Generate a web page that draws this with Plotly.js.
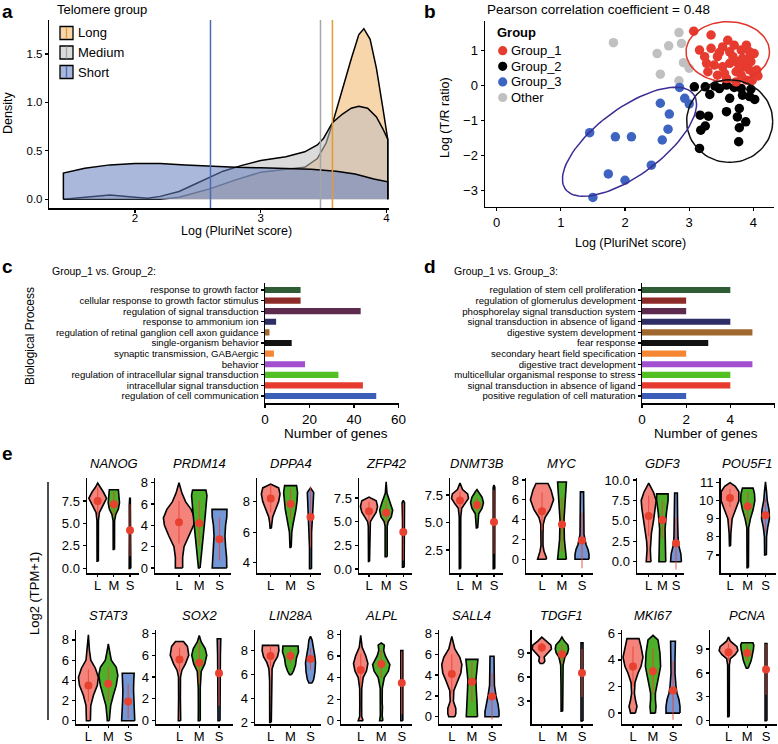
<!DOCTYPE html>
<html>
<head>
<meta charset="utf-8">
<script src="https://cdn.plot.ly/plotly-3.0.1.min.js"></script>
<style>
  html, body { margin: 0; padding: 0; background: #fff; }
  #plot { width: 778px; height: 744px; }
</style>
</head>
<body>
<div id="plot"></div>
<script>
const FONT = 'Liberation Sans, Arial, Helvetica, sans-serif';

// ---- a: density of log PluriNet score per telomere group ----
const telomereGroups = ['Long', 'Medium', 'Short'];
const longX = [1.43, 2.2, 2.35, 2.5, 2.6, 2.8, 3.0, 3.2, 3.35, 3.45, 3.52, 3.57, 3.65, 3.72, 3.78, 3.82, 3.87, 3.92, 3.97, 4.01];
const longY = [0, 0, 0.02, 0.07, 0.11, 0.2, 0.28, 0.31, 0.33, 0.42, 0.58, 0.78, 1.15, 1.45, 1.7, 1.76, 1.65, 1.35, 0.95, 0.62];
const medX = [1.43, 1.6, 1.8, 2.0, 2.1, 2.2, 2.35, 2.5, 2.6, 2.7, 2.85, 3.0, 3.2, 3.35, 3.45, 3.5, 3.57, 3.65, 3.72, 3.78, 3.85, 3.92, 3.97, 4.01];
const medY = [0, 0.02, 0.045, 0.02, 0.01, 0.03, 0.08, 0.17, 0.23, 0.29, 0.35, 0.4, 0.44, 0.49, 0.56, 0.63, 0.79, 0.88, 0.94, 0.96, 0.94, 0.85, 0.73, 0.62];
const shortX = [1.43, 1.6, 1.8, 2.0, 2.2, 2.4, 2.6, 2.8, 3.0, 3.2, 3.4, 3.6, 3.75, 3.9, 4.01];
const shortY = [0.27, 0.32, 0.355, 0.37, 0.37, 0.355, 0.34, 0.33, 0.325, 0.32, 0.31, 0.29, 0.26, 0.21, 0.18];
const groupMeans = [3.57, 3.475, 2.6]; // vertical lines, Long / Medium / Short

// ---- b: PluriNet score vs T/R ratio ----
const clusterNames = ['Group_1', 'Group_2', 'Group_3', 'Other'];
const g1x = [3.07, 3.34, 3.16, 3.24, 3.34, 3.44, 3.52, 3.63, 3.70, 3.81, 3.89, 3.94, 3.83, 3.73, 3.63, 3.52, 3.39, 3.29, 3.44, 3.58, 3.73, 3.86, 3.96, 4.01, 3.89, 3.73, 3.81, 3.94, 4.01, 3.68, 3.78, 3.27, 3.60, 3.47, 3.98, 3.92, 3.55, 4.07, 4.05];
const g1y = [1.56, 1.45, 1.02, 0.83, 1.07, 0.83, 1.11, 0.97, 1.16, 1.02, 1.16, 0.97, 0.78, 0.69, 0.64, 0.54, 0.59, 0.40, 0.30, 0.21, 0.40, 0.54, 0.69, 0.30, 0.16, 0.11, 0.30, 0.45, 0.92, 0.83, 0.54, 0.64, 1.30, 0.95, 0.15, 0.75, 0.35, 0.28, 0.45];
const g2x = [3.08, 3.25, 3.17, 3.25, 3.18, 3.16, 3.30, 3.32, 3.47, 3.58, 3.63, 3.78, 3.75, 3.88, 3.78, 3.77, 3.83, 3.96, 4.02, 3.70, 3.58, 3.40, 3.81, 3.94];
const g2y = [-0.03, -0.03, -0.84, -1.15, -1.27, -1.79, -0.87, -0.25, -0.08, -0.74, -0.36, -0.65, -0.89, -1.03, -1.20, -1.60, -0.27, -0.10, -0.39, -0.05, 0.02, -0.01, -0.08, -0.31];
const g3x = [1.45, 1.85, 2.10, 1.50, 1.74, 2.00, 2.41, 2.55, 2.69, 2.67, 2.58, 2.85, 2.93, 3.00];
const g3y = [-1.34, -1.46, -1.46, -3.19, -2.52, -2.70, -2.27, -0.50, -0.81, -1.24, -1.55, -0.05, -0.36, -0.52];
const otherX = [1.82, 2.50, 2.68, 2.84, 2.88, 2.91, 2.55, 2.84, 3.00];
const otherY = [1.23, 0.92, 1.14, 1.52, 1.21, 0.66, 0.33, 0.14, 0.50];
// cluster ellipses: centre and the two semi-axis vectors, in data units
const ellCx = [3.60, 3.63, 2.07];
const ellCy = [0.97, -1.01, -1.60];
const ellU = [[0.65, 0], [0.67, 0], [1.0, 1.35]];
const ellV = [[0, 0.86], [0, 1.18], [-0.3, 0.78]];

// ---- c / d: enriched biological processes ----
const termsC = ['response to growth factor', 'cellular response to growth factor stimulus', 'regulation of signal transduction',
  'response to ammonium ion', 'regulation of retinal ganglion cell axon guidance', 'single-organism behavior',
  'synaptic transmission, GABAergic', 'behavior', 'regulation of intracellular signal transduction',
  'intracellular signal transduction', 'regulation of cell communication'];
const genesC = [16, 16, 43, 5, 2, 12, 4, 18, 33, 44, 50];
const termsD = ['regulation of stem cell proliferation', 'regulation of glomerulus development', 'phosphorelay signal transduction system',
  'signal transduction in absence of ligand', 'digestive system development', 'fear response',
  'secondary heart field specification', 'digestive tract development', 'multicellular organismal response to stress',
  'signal transduction in absence of ligand', 'positive regulation of cell maturation'];
const genesD = [4, 2, 2, 4, 5, 3, 2, 5, 4, 4, 2];
const termColors = ['#2E5C34', '#8C2B27', '#5C2B4E', '#2F2F68', '#A0682E', '#121212', '#F58634', '#A24FCF', '#52BF23', '#E63B2E', '#3B5FB8'];

// ---- e: expression violins, profile = [log2(TPM+1), half width] ----
const groupLetters = ['L', 'M', 'S'];
const geneNames = ['NANOG', 'PRDM14', 'DPPA4', 'ZFP42', 'DNMT3B', 'MYC', 'GDF3', 'POU5F1',
  'STAT3', 'SOX2', 'LIN28A', 'ALPL', 'SALL4', 'TDGF1', 'MKI67', 'PCNA'];
const vNANOG = {
  L: [[0.8, 0.04], [5.3, 0.045], [6.2, 0.1], [7.0, 0.35], [7.8, 0.55], [8.5, 0.35], [9.0, 0.15], [9.5, 0]],
  M: [[2.1, 0.04], [5.3, 0.045], [6.0, 0.12], [6.6, 0.28], [7.3, 0.35], [8.0, 0.33], [8.75, 0.28]],
  S: [[0, 0.05], [1, 0.045], [4, 0.04], [7, 0.045], [7.8, 0.02]] };
const vPRDM14 = {
  L: [[0, 0.18], [1, 0.18], [2, 0.25], [3, 0.5], [4, 0.72], [4.7, 0.77], [5.5, 0.6], [6.2, 0.33], [7, 0.15], [8.0, 0]],
  M: [[0, 0.04], [1, 0.1], [2, 0.15], [3, 0.2], [4, 0.25], [5, 0.3], [6, 0.36], [6.8, 0.38], [7.3, 0.33]],
  S: [[0, 0.36], [1, 0.35], [2, 0.3], [3, 0.27], [4, 0.3], [4.8, 0.36], [5.5, 0.37]] };
const vDPPA4 = {
  L: [[6.25, 0.03], [6.6, 0.05], [7.0, 0.1], [7.5, 0.25], [8.0, 0.4], [8.5, 0.47], [8.9, 0.4], [9.15, 0]],
  M: [[5.0, 0.03], [6.0, 0.06], [6.5, 0.12], [7.0, 0.2], [7.5, 0.27], [8.0, 0.32], [8.6, 0.35], [9.05, 0.3]],
  S: [[3.6, 0.05], [5, 0.05], [6, 0.055], [7, 0.1], [8, 0.14], [8.6, 0.16], [8.9, 0]] };
const vZFP42 = {
  L: [[0.8, 0.03], [4.5, 0.04], [5.0, 0.08], [5.5, 0.25], [6.0, 0.42], [6.6, 0.5], [7.2, 0.42], [7.6, 0]],
  M: [[1.3, 0.06], [3.5, 0.06], [4.5, 0.06], [5.0, 0.12], [5.5, 0.3], [6.2, 0.38], [7.0, 0.25], [8.0, 0.05], [9.2, 0]],
  S: [[0.2, 0.05], [2, 0.045], [5, 0.045], [7, 0.07], [7.25, 0]] };
const vDNMT3B = {
  L: [[0.8, 0.04], [5.5, 0.045], [6.3, 0.1], [6.7, 0.3], [7.2, 0.5], [7.6, 0.45], [8.0, 0.15], [8.6, 0]],
  M: [[4.5, 0.04], [5.0, 0.05], [5.8, 0.1], [6.3, 0.3], [6.8, 0.38], [7.3, 0.3], [7.8, 0.1], [8.0, 0]],
  S: [[0.8, 0.045], [4, 0.045], [7, 0.05], [8.2, 0.05], [8.4, 0]] };
const vMYC = {
  L: [[0, 0.22], [0.2, 0.22], [0.8, 0.1], [1.4, 0.05], [2.5, 0.05], [3.5, 0.06], [4.2, 0.15], [5, 0.4], [6, 0.58], [7, 0.45], [7.65, 0.3]],
  M: [[0, 0.22], [0.5, 0.2], [2, 0.12], [4, 0.1], [6, 0.15], [7.8, 0.22]],
  S: [[0, 0.35], [0.5, 0.35], [1, 0.3], [1.5, 0.2], [2.5, 0.1], [4, 0.08], [6.8, 0.08]] };
const vGDF3 = {
  L: [[0, 0.18], [0.3, 0.15], [1.5, 0.12], [2.5, 0.15], [3.5, 0.2], [5, 0.35], [6.5, 0.5], [7.5, 0.55], [8.5, 0.35], [9.6, 0]],
  M: [[0, 0.25], [0.5, 0.25], [2, 0.2], [4, 0.2], [6, 0.3], [7.5, 0.42], [8.3, 0.42]],
  S: [[0, 0.4], [1, 0.35], [2, 0.2], [3, 0.15], [5, 0.12], [8.4, 0.1]] };
const vPOU5F1 = {
  L: [[7.5, 0.03], [8.2, 0.05], [9.0, 0.12], [9.6, 0.35], [10.0, 0.5], [10.5, 0.5], [10.8, 0.3], [11.0, 0]],
  M: [[6.3, 0.04], [8.5, 0.05], [9.0, 0.15], [9.5, 0.3], [10.0, 0.4], [10.4, 0.38], [10.7, 0.3]],
  S: [[7.0, 0.05], [8, 0.06], [8.5, 0.12], [9, 0.22], [9.5, 0.2], [10, 0.1], [10.5, 0.06], [11.05, 0]] };
const vSTAT3 = {
  L: [[0, 0.1], [0.5, 0.1], [1.5, 0.12], [2.5, 0.25], [3.5, 0.45], [4.3, 0.5], [5.2, 0.35], [6, 0.12], [7, 0.05], [8.5, 0]],
  M: [[0, 0.05], [0.5, 0.07], [1.5, 0.12], [2.5, 0.25], [3.5, 0.4], [4.5, 0.48], [5.3, 0.4], [6, 0.15], [7, 0.05], [7.6, 0]],
  S: [[0, 0.33], [1, 0.3], [2, 0.28], [3, 0.27], [4, 0.28], [4.7, 0.3]] };
const vSOX2 = {
  L: [[0, 0.06], [0.5, 0.05], [2, 0.045], [4, 0.05], [4.6, 0.12], [5.2, 0.3], [6.0, 0.47], [6.8, 0.4], [7.25, 0.2]],
  M: [[0, 0.05], [1, 0.045], [3, 0.05], [4.5, 0.1], [5.2, 0.28], [6.0, 0.38], [6.6, 0.3], [7.2, 0.1], [7.8, 0]],
  S: [[0, 0.05], [3, 0.045], [6, 0.07], [7.5, 0.09]] };
const vLIN28A = {
  L: [[2.0, 0.04], [5.5, 0.045], [6.5, 0.08], [7.0, 0.18], [7.5, 0.35], [8.0, 0.42], [8.45, 0.4]],
  M: [[6.0, 0.05], [6.3, 0.15], [6.8, 0.25], [7.4, 0.3], [7.9, 0.4], [8.4, 0.38]],
  S: [[5.3, 0.08], [5.6, 0.16], [6.2, 0.22], [7.0, 0.25], [7.5, 0.22], [8.3, 0.12], [8.9, 0.08], [9.2, 0]] };
const vALPL = {
  L: [[0, 0.12], [0.4, 0.05], [1.5, 0.045], [3, 0.05], [4, 0.12], [4.6, 0.28], [5.3, 0.35], [6, 0.25], [6.8, 0.07], [7.9, 0]],
  M: [[0, 0.08], [0.5, 0.045], [1.3, 0.06], [1.6, 0.045], [3, 0.05], [4, 0.15], [4.6, 0.35], [5.2, 0.42], [6.0, 0.2], [6.5, 0.12], [7.0, 0.15], [7.2, 0]],
  S: [[0, 0.05], [3, 0.045], [6.5, 0.05]] };
const vSALL4 = {
  L: [[0, 0.15], [0.3, 0.2], [0.8, 0.2], [1.5, 0.08], [2.5, 0.1], [3.5, 0.3], [4.2, 0.45], [5.0, 0.5], [5.7, 0.4], [6.5, 0.15], [7.7, 0]],
  M: [[0, 0.28], [0.5, 0.28], [1.5, 0.25], [2.5, 0.22], [3.5, 0.2], [4.5, 0.25], [5.5, 0.3]],
  S: [[0, 0.35], [0.5, 0.35], [1.2, 0.3], [2, 0.2], [3, 0.12], [4, 0.1], [5.8, 0.1]] };
const vTDGF1 = {
  L: [[7.7, 0.08], [8.0, 0.15], [8.5, 0.12], [9.0, 0.3], [9.5, 0.48], [10.0, 0.45], [10.5, 0.2], [11.0, 0]],
  M: [[1.7, 0.04], [5, 0.045], [7.5, 0.06], [8.5, 0.15], [9.0, 0.28], [9.5, 0.33], [10.0, 0.3], [10.5, 0.12], [11.0, 0]],
  S: [[0.5, 0.05], [5, 0.045], [9, 0.05], [10.3, 0.05]] };
const vMKI67 = {
  L: [[0, 0.12], [0.5, 0.2], [1, 0.12], [1.5, 0.07], [2.3, 0.1], [3, 0.25], [3.5, 0.4], [4.2, 0.5], [5, 0.4], [5.6, 0.3]],
  M: [[0, 0.12], [0.5, 0.15], [1, 0.12], [1.5, 0.12], [2.5, 0.25], [3.5, 0.38], [4.5, 0.35], [5.5, 0.25], [5.85, 0]],
  S: [[0, 0.35], [0.5, 0.35], [1, 0.3], [1.5, 0.2], [2, 0.15], [3, 0.1], [4, 0.1], [5.4, 0.12]] };
const vPCNA = {
  L: [[0.5, 0.04], [7, 0.045], [7.8, 0.1], [8.3, 0.35], [8.8, 0.5], [9.3, 0.45], [10, 0.1], [10.5, 0]],
  M: [[6.6, 0.05], [7.0, 0.12], [7.5, 0.2], [8.0, 0.25], [8.5, 0.3], [9.0, 0.33], [9.5, 0.35], [9.8, 0.3]],
  S: [[0, 0.05], [5, 0.045], [9, 0.05], [9.7, 0.05]] };
const geneViolins = [vNANOG, vPRDM14, vDPPA4, vZFP42, vDNMT3B, vMYC, vGDF3, vPOU5F1,
  vSTAT3, vSOX2, vLIN28A, vALPL, vSALL4, vTDGF1, vMKI67, vPCNA];
const meanL = [7.5, 4.3, 8.2, 6.1, 7.0, 4.85, 5.6, 10.15, 3.5, 5.6, 7.55, 4.7, 4.1, 9.7, 3.5, 8.6];
const meanM = [7.15, 4.2, 7.85, 5.95, 6.6, 3.5, 5.1, 9.7, 3.65, 5.3, 7.55, 5.25, 3.35, 8.85, 3.15, 8.5];
const meanS = [4.25, 2.7, 7.0, 3.9, 5.05, 1.9, 2.25, 9.2, 1.9, 4.35, 7.3, 3.5, 1.95, 6.5, 1.7, 6.45];
const sdL = [1.5, 2.0, 0.9, 1.0, 0.8, 1.9, 2.5, 0.5, 1.6, 1.1, 0.9, 1.5, 1.9, 0.6, 1.5, 1.1];
const sdM = [1.35, 2.1, 1.0, 1.2, 0.6, 2.7, 2.3, 0.8, 1.7, 1.9, 0.6, 1.3, 1.9, 1.2, 1.7, 1.0];
const sdS = [2.9, 2.0, 2.0, 3.0, 2.9, 2.8, 3.2, 0.9, 1.7, 3.0, 0.9, 2.9, 2.2, 3.0, 2.2, 3.2];
const geneTicks = [[0, 2.5, 5, 7.5], [0, 2, 4, 6, 8], [4, 6, 8], [0, 2.5, 5, 7.5], [2.5, 5, 7.5], [0, 2, 4, 6, 8],
  [0, 2.5, 5, 7.5, 10], [7, 8, 9, 10, 11], [0, 2, 4, 6, 8], [0, 2, 4, 6, 8], [2, 4, 6, 8], [0, 2, 4, 6, 8],
  [0, 2, 4, 6, 8], [3, 6, 9], [0, 2, 4, 6], [0, 3, 6, 9]];

// ---------- page geometry (pixels of the 778 x 744 figure) ----------
const W = 778, H = 744;
const fx = p => p / W;
const fy = p => 1 - p / H;

// panel e: y-axis line, L centre, S centre, right end of x-axis
const eGeom = [
  [87, 97.7, 130, 139], [155, 179, 219.5, 231], [257, 270.7, 310.5, 320.5], [359, 369, 403.3, 411.7],
  [450, 460, 494, 503], [526, 542, 582, 593], [637, 648.7, 676, 684], [720.5, 730, 765.5, 776],
  [76, 88.4, 128.2, 138.3], [156, 179.5, 219, 233], [255, 270.5, 310.5, 320.5], [341, 360.7, 401.8, 411.7],
  [439, 451.8, 492, 501.7], [531.7, 541.8, 582, 593.3], [622, 633, 673, 682], [710, 728.5, 766, 776.7]];
const eYRange = [[-0.52, 10.06], [-0.47, 8.44], [3.32, 9.55], [-0.42, 9.61], [0.41, 9.05], [-1.38, 8.2], [-1.38, 10.24], [6.0, 11.26],
  [-0.32, 8.98], [-0.3, 8.3], [1.86, 9.74], [-0.3, 8.4], [-0.69, 8.31], [0.11, 11.89], [-0.82, 6.25], [-0.41, 11.4]];
const eRows = [[478, 573], [630, 724]];

const densFill = ['rgba(240,165,70,0.45)', 'rgba(190,190,190,0.55)', 'rgba(100,125,190,0.55)'];
const densKey = ['#F8D6AC', '#DBDBDB', '#AAB7DB'];
const meanLineColor = ['#E39A33', '#A6A6A6', '#4A6CB5'];
const clusterColors = ['#E63B2E', '#000000', '#3E64C2', '#C0C0C0'];
const ellColors = ['#E0352B', '#111111', '#3A2D94'];
const violinFill = ['#F4837C', '#4DB02A', '#7396D4'];
const dotRed = '#E8412F';

function axisStyle(extra, size) {
  return Object.assign({
    showline: true, linecolor: '#000', linewidth: 1.5, mirror: false,
    ticks: 'outside', ticklen: 3, tickwidth: 1.2, tickcolor: '#000',
    showgrid: false, zeroline: false, fixedrange: true,
    tickfont: { family: FONT, size: size || 12, color: '#000' }
  }, extra);
}

function text(t, x, y, size, extra) {
  return Object.assign({
    text: t, x: fx(x), y: fy(y), xref: 'paper', yref: 'paper', showarrow: false,
    xanchor: 'center', yanchor: 'middle', font: { family: FONT, size: size, color: '#000' }
  }, extra);
}

const traces = [];
const shapes = [];
const annotations = [];
const layout = {
  width: W, height: H, margin: { l: 0, r: 0, t: 0, b: 0 },
  paper_bgcolor: '#fff', plot_bgcolor: 'rgba(0,0,0,0)', showlegend: false,
  font: { family: FONT, color: '#000' }
};

// ---------- a ----------
[[longX, longY], [medX, medY], [shortX, shortY]].forEach(([xs, ys], i) => {
  traces.push({
    type: 'scatter', mode: 'lines', xaxis: 'x', yaxis: 'y', hoverinfo: 'skip',
    x: [xs[0]].concat(xs, [xs[xs.length - 1]]), y: [0].concat(ys, [0]),
    fill: 'toself', fillcolor: densFill[i], line: { color: '#000', width: 1.5 }
  });
});
groupMeans.forEach((m, i) => {
  shapes.push({ type: 'line', xref: 'x', yref: 'y domain', x0: m, x1: m, y0: 0, y1: 1,
    line: { color: meanLineColor[i], width: 1.5 } });
});
layout.xaxis = axisStyle({ domain: [fx(49.3), fx(389)], range: [1.318, 4.02], anchor: 'y', tickvals: [2, 3, 4],
  ticklabelstandoff: -4 }, 11.5);
layout.yaxis = axisStyle({ domain: [fy(208), fy(20)], range: [-0.09, 1.85], anchor: 'x',
  tickvals: [0, 0.5, 1, 1.5], tickformat: '.1f' }, 11.5);
annotations.push(text('Log (PluriNet score)', 236, 231, 12.5));
annotations.push(text('Density', 8, 113, 12.5, { textangle: -90 }));
annotations.push(text('Telomere group', 55, 10, 13, { xanchor: 'left' }));
telomereGroups.forEach((g, i) => {
  const cy = 33 + i * 19.5;
  shapes.push({ type: 'rect', xref: 'paper', yref: 'paper', x0: fx(60), x1: fx(73), y0: fy(cy + 6.5), y1: fy(cy - 6.5),
    fillcolor: densKey[i], line: { color: '#000', width: 1.3 } });
  shapes.push({ type: 'line', xref: 'paper', yref: 'paper', x0: fx(66.5), x1: fx(66.5), y0: fy(cy + 6), y1: fy(cy - 6),
    line: { color: meanLineColor[i], width: 1.4 } });
  annotations.push(text(g, 76, cy, 13, { xanchor: 'left' }));
});

// ---------- b ----------
[[otherX, otherY, 3], [g3x, g3y, 2], [g2x, g2y, 1], [g1x, g1y, 0]].forEach(([xs, ys, k]) => {
  traces.push({ type: 'scatter', mode: 'markers', xaxis: 'x2', yaxis: 'y2', hoverinfo: 'skip', x: xs, y: ys,
    marker: { color: clusterColors[k], size: 9.5 } });
});
ellCx.forEach((cx, i) => {
  const ex = [], ey = [];
  for (let s = 0; s <= 90; s++) {
    const t = s / 90 * 2 * Math.PI;
    ex.push(cx + ellU[i][0] * Math.cos(t) + ellV[i][0] * Math.sin(t));
    ey.push(ellCy[i] + ellU[i][1] * Math.cos(t) + ellV[i][1] * Math.sin(t));
  }
  traces.push({ type: 'scatter', mode: 'lines', xaxis: 'x2', yaxis: 'y2', hoverinfo: 'skip', x: ex, y: ey,
    line: { color: ellColors[i], width: 1.5 } });
});
layout.xaxis2 = axisStyle({ domain: [fx(485), fx(774)], range: [-0.18, 4.32], anchor: 'y2', tickvals: [0, 1, 2, 3, 4] }, 13);
layout.yaxis2 = axisStyle({ domain: [fy(206.5), fy(21)], range: [-3.45, 1.85], anchor: 'x2', tickvals: [-3, -2, -1, 0, 1] }, 13);
annotations.push(text('Pearson correlation coefficient = 0.48', 485, 10, 13.5, { xanchor: 'left' }));
annotations.push(text('Log (PluriNet score)', 630, 243, 12.5));
annotations.push(text('Log (T/R ratio)', 445, 118, 12.5, { textangle: -90 }));
annotations.push(text('<b>Group</b>', 495, 33, 13, { xanchor: 'left' }));
clusterNames.forEach((g, i) => {
  const cy = 50.7 + i * 15.6, cx = 502.7, r = 4.6;
  shapes.push({ type: 'circle', xref: 'paper', yref: 'paper', x0: fx(cx - r), x1: fx(cx + r), y0: fy(cy + r), y1: fy(cy - r),
    fillcolor: clusterColors[i], line: { width: 0 } });
  annotations.push(text(g, 509, cy, 13, { xanchor: 'left' }));
});

// ---------- c and d ----------
function barPanel(terms, counts, n, xDom, xRange, xTicks) {
  const ys = terms.map((_, i) => terms.length - 1 - i);
  traces.push({ type: 'bar', orientation: 'h', xaxis: 'x' + n, yaxis: 'y' + n, hoverinfo: 'skip',
    x: counts, y: ys, width: 0.58, marker: { color: termColors, line: { width: 0 } } });
  layout['xaxis' + n] = axisStyle({ domain: xDom, range: xRange, anchor: 'y' + n, tickvals: xTicks }, 13.5);
  layout['yaxis' + n] = axisStyle({ domain: [fy(403), fy(283)], range: [-0.66, 10.66], anchor: 'x' + n,
    tickvals: ys, ticktext: terms, tickfont: { family: FONT, size: 9.6, color: '#000' } });
}
barPanel(termsC, genesC, 3, [fx(265), fx(398.5)], [0, 60], [0, 20, 40, 60]);
barPanel(termsD, genesD, 4, [fx(642), fx(774.5)], [0, 6], [0, 2, 4, 6]);
annotations.push(text('Group_1 vs. Group_2:', 50, 271, 10.5, { xanchor: 'left' }));
annotations.push(text('Group_1 vs. Group_3:', 452, 271, 10.5, { xanchor: 'left' }));
annotations.push(text('Number of genes', 336, 433, 13.5));
annotations.push(text('Number of genes', 706, 433, 13.5));
annotations.push(text('Biological Process', 30, 336, 12, { textangle: -90 }));

// ---------- e ----------
function violinPath(prof, c) {
  const xs = [], ys = [];
  prof.forEach(([y, w]) => { xs.push(c + w); ys.push(y); });
  for (let i = prof.length - 1; i >= 0; i--) { xs.push(c - prof[i][1]); ys.push(prof[i][0]); }
  xs.push(xs[0]); ys.push(ys[0]);
  return { xs, ys };
}
geneNames.forEach((g, k) => {
  const n = k + 5;
  const [ax, lx, sx, rx] = eGeom[k];
  const [top, bot] = eRows[k < 8 ? 0 : 1];
  const unit = (sx - lx) / 2;
  const v = geneViolins[k];
  ['L', 'M', 'S'].forEach((grp, j) => {
    const p = violinPath(v[grp], j + 1);
    traces.push({ type: 'scatter', mode: 'lines', xaxis: 'x' + n, yaxis: 'y' + n, hoverinfo: 'skip',
      x: p.xs, y: p.ys, fill: 'toself', fillcolor: violinFill[j], line: { color: '#000', width: 1.6 } });
  });
  const means = [meanL[k], meanM[k], meanS[k]];
  const sds = [sdL[k], sdM[k], sdS[k]];
  const bx = [], by = [];
  means.forEach((m, j) => { bx.push(j + 1, j + 1, null); by.push(m - sds[j], m + sds[j], null); });
  traces.push({ type: 'scatter', mode: 'lines', xaxis: 'x' + n, yaxis: 'y' + n, hoverinfo: 'skip',
    x: bx, y: by, line: { color: 'rgba(232,65,47,0.8)', width: 1.1 } });
  traces.push({ type: 'scatter', mode: 'markers', xaxis: 'x' + n, yaxis: 'y' + n, hoverinfo: 'skip',
    x: [1, 2, 3], y: means, marker: { color: dotRed, size: 8 } });

  const ticks = geneTicks[k];
  const dec = ticks.some(t => t % 1 !== 0);
  layout['xaxis' + n] = axisStyle({ domain: [fx(ax), fx(rx)], range: [1 - (lx - ax) / unit, 3 + (rx - sx) / unit],
    anchor: 'y' + n, tickvals: [1, 2, 3], ticktext: groupLetters, ticklen: 2.5, ticklabelstandoff: -3 }, 13);
  layout['yaxis' + n] = axisStyle({ domain: [fy(bot), fy(top)], range: eYRange[k], anchor: 'x' + n,
    tickvals: ticks, tickformat: dec ? '.1f' : 'd' }, 13);
  annotations.push(text('<i>' + g + '</i>', (lx + sx) / 2, top - 15, 13));
});
shapes.push({ type: 'line', xref: 'paper', yref: 'paper', x0: fx(48), x1: fx(48), y0: fy(482), y1: fy(720),
  line: { color: '#000', width: 1.4 } });
annotations.push(text('Log2 (TPM+1)', 34, 594, 13, { textangle: -90 }));

// panel letters
annotations.push(text('<b>a</b>', 7, 12, 19));
annotations.push(text('<b>b</b>', 430, 12, 19));
annotations.push(text('<b>c</b>', 7, 266, 19));
annotations.push(text('<b>d</b>', 430, 266, 19));
annotations.push(text('<b>e</b>', 7, 453, 19));

layout.shapes = shapes;
layout.annotations = annotations;

Plotly.newPlot('plot', traces, layout, { displayModeBar: false, staticPlot: true });
</script>
</body>
</html>
